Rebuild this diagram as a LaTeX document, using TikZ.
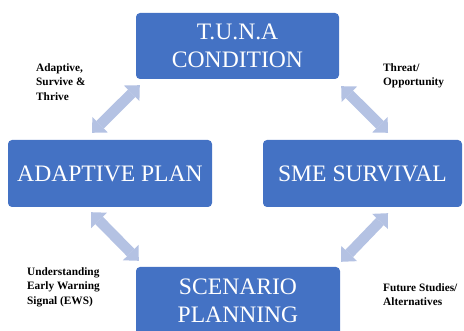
\documentclass[tikz,border=0pt]{standalone}
\usepackage{fontspec}
\setmainfont{Liberation Serif}
\usetikzlibrary{arrows.meta}
\definecolor{boxblue}{HTML}{4472C4}
\definecolor{arrowblue}{HTML}{B4C2E3}
\begin{document}
\begin{tikzpicture}[x=1pt,y=-1pt,
  box/.style={fill=boxblue, rounded corners=4pt, text=white,
    font=\fontsize{23.6}{28}\selectfont, align=center, inner sep=0pt},
  lab/.style={font=\fontsize{11.3}{14.5}\selectfont\bfseries, align=left, inner sep=0pt, anchor=north west},
  conn/.style={draw=arrowblue, line width=10.5pt,
    {Triangle[width=22pt,length=11.5pt,line width=0pt]}-{Triangle[width=22pt,length=11.5pt,line width=0pt]}}]
\useasboundingbox (0,0) rectangle (464,331);
\node[box, minimum width=203pt, minimum height=66pt] (tuna) at (237.5,46) {T.U.N.A\\CONDITION};
\node[box, minimum width=204pt, minimum height=67pt] (adapt) at (110,173.5) {ADAPTIVE PLAN};
\node[box, minimum width=199pt, minimum height=67pt] (sme) at (362.5,173.5) {SME SURVIVAL};
\node[box, minimum width=204pt, minimum height=68pt] (scen) at (238,301) {SCENARIO\\PLANNING};
\draw[conn] ([shift={(4,6)}]tuna.south west) -- ([shift={(-18,-7)}]adapt.north);
\draw[conn] ([shift={(2,7)}]tuna.south east) -- ([shift={(25.5,-7)}]sme.north);
\draw[conn] ([shift={(-19,5)}]adapt.south) -- ([shift={(3,-6)}]scen.north west);
\draw[conn] ([shift={(25.5,6)}]sme.south) -- ([shift={(1,-5)}]scen.north east);
\node[lab] (l1) at (36,63) {Adaptive,\\Survive \&\\Thrive};
\node[lab] (l2) at (383,63) {Threat/\\Opportunity};
\node[lab] (l3) at (27,267) {Understanding\\Early Warning\\Signal (EWS)};
\node[lab] (l4) at (383,283) {Future Studies/\\Alternatives};
\end{tikzpicture}
\end{document}
